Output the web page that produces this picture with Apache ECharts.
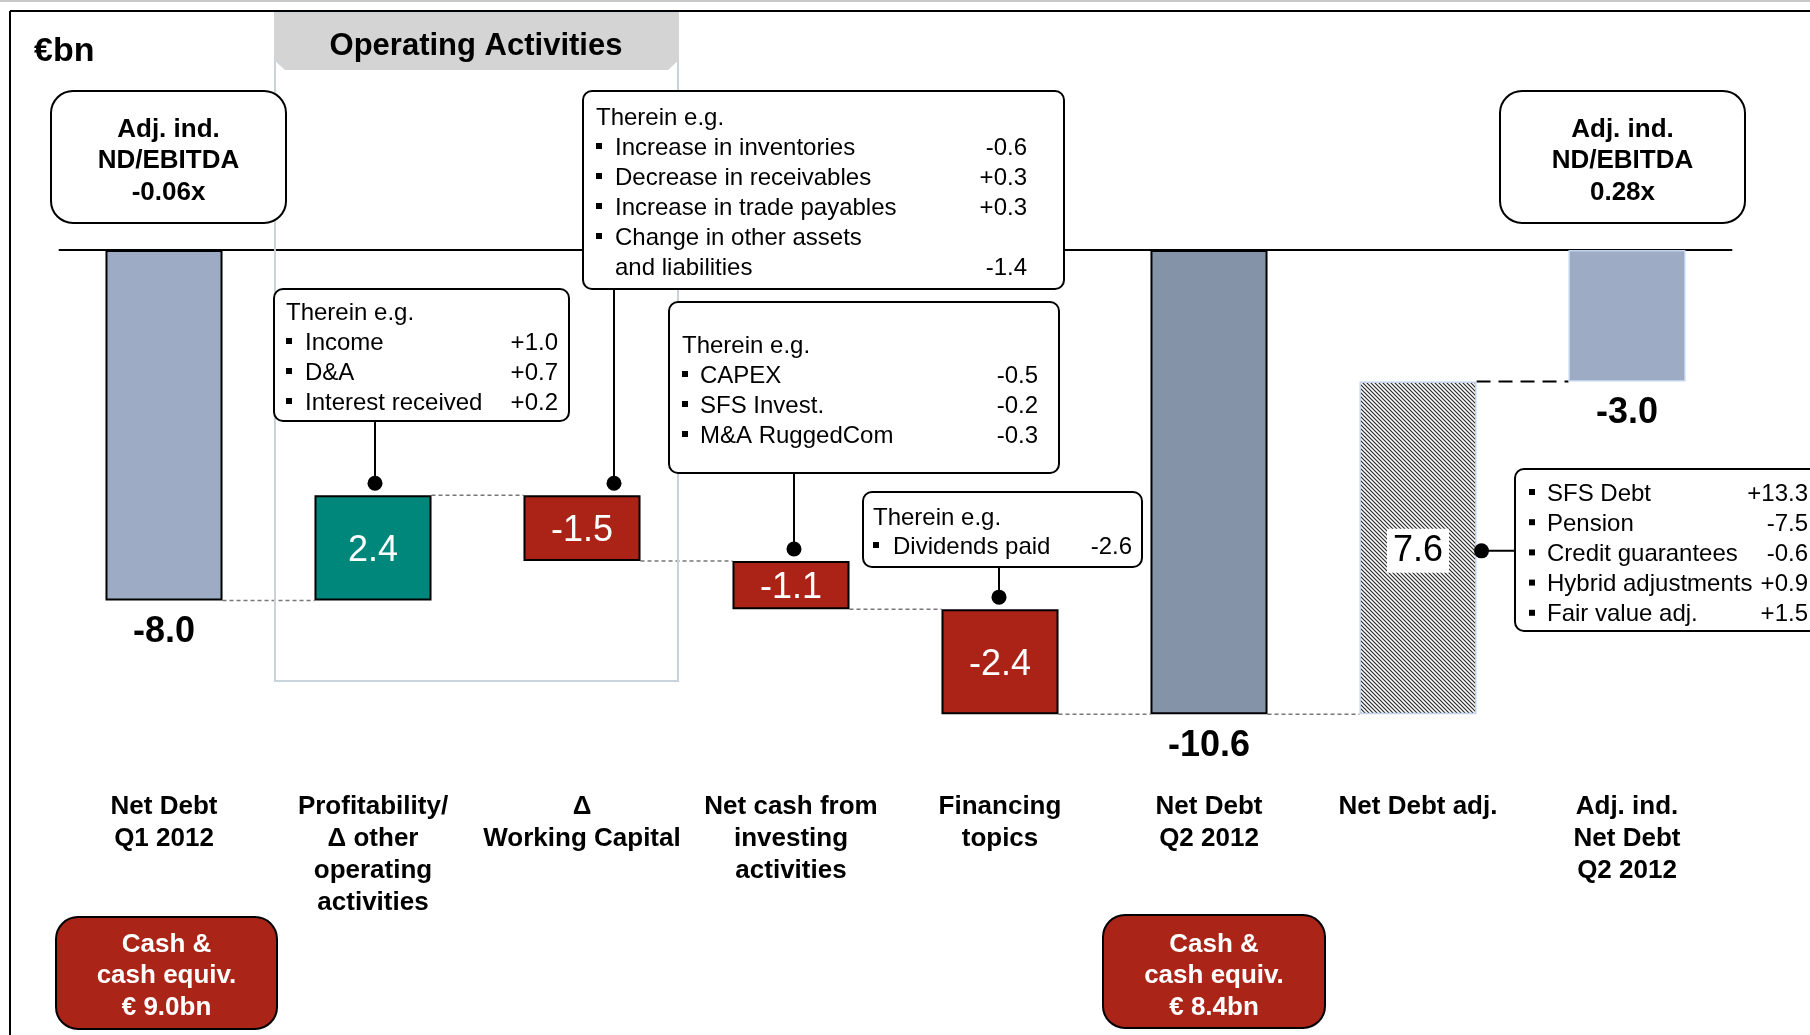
<!DOCTYPE html>
<html>
<head>
<meta charset="utf-8">
<title>Net Debt bridge</title>
<script src="https://cdn.jsdelivr.net/npm/echarts@6/dist/echarts.min.js"></script>
<style>
  html, body { margin: 0; padding: 0; background: #fff; }
  #chart { width: 1810px; height: 1035px; }
</style>
</head>
<body>
<div id="chart"></div>
<script>
// ---- data ----
const categories = [
  'Net Debt\nQ1 2012',
  'Profitability/\nΔ other\noperating\nactivities',
  'Δ\nWorking Capital',
  'Net cash from\ninvesting\nactivities',
  'Financing\ntopics',
  'Net Debt\nQ2 2012',
  'Net Debt adj.',
  'Adj. ind.\nNet Debt\nQ2 2012'
];
const changes = [-8.0, 2.4, -1.5, -1.1, -2.4, -10.6, 7.6, -3.0];
const isTotal = [true, false, false, false, false, true, false, true];

// callout texts
const noteProfit = [['Income', '+1.0'], ['D&A', '+0.7'], ['Interest received', '+0.2']];
const noteWorkingCapital = [
  ['Increase in inventories', '-0.6'],
  ['Decrease in receivables', '+0.3'],
  ['Increase in trade payables', '+0.3'],
  ['Change in other assets', ''],
  ['and liabilities', '-1.4', 'cont']
];
const noteInvesting = [['CAPEX', '-0.5'], ['SFS Invest.', '-0.2'], ['M&A RuggedCom', '-0.3']];
const noteFinancing = [['Dividends paid', '-2.6']];
const noteAdjustments = [
  ['SFS Debt', '+13.3'], ['Pension', '-7.5'], ['Credit guarantees', '-0.6'],
  ['Hybrid adjustments', '+0.9'], ['Fair value adj.', '+1.5']
];
const ratioLeft = ['Adj. ind.', 'ND/EBITDA', '-0.06x'];
const ratioRight = ['Adj. ind.', 'ND/EBITDA', '0.28x'];
const cashLeft = ['Cash &', 'cash equiv.', '€ 9.0bn'];
const cashRight = ['Cash &', 'cash equiv.', '€ 8.4bn'];

// ---- waterfall levels ----
const base = [], visible = [], level = [];
let run = 0;
changes.forEach((v, i) => {
  if (isTotal[i]) {
    base.push(0); visible.push(v); run = v;
  } else {
    const from = run;
    run = +(run + v).toFixed(1);
    base.push(Math.max(from, run));
    visible.push(-Math.abs(v));
  }
  level.push(run);
});

const FONT = "'Liberation Sans', Arial, Helvetica, sans-serif";
const BAR_RATIO = 0.56;
const TEXT_DY = 3; // nudge text down a bit, Liberation's middle sits high

// hatch pattern for the adjustment bar
const hatch = document.createElement('canvas');
hatch.width = 4; hatch.height = 4;
const hc = hatch.getContext('2d');
hc.fillStyle = '#fff'; hc.fillRect(0, 0, 4, 4);
hc.strokeStyle = '#2a2a2a'; hc.lineWidth = 1.2;
hc.beginPath();
hc.moveTo(0, 0); hc.lineTo(4, 4);
hc.moveTo(-1, 3); hc.lineTo(1, 5);
hc.moveTo(3, -1); hc.lineTo(5, 1);
hc.stroke();

const black = { borderColor: '#000', borderWidth: 2 };
const pale = { borderColor: '#c3d3ee', borderWidth: 1.5 };
const barStyles = [
  { color: '#9dabc5', ...black },
  { color: '#00877c', ...black },
  { color: '#ab2316', ...black },
  { color: '#ab2316', ...black },
  { color: '#ab2316', ...black },
  { color: '#8593a9', ...black },
  { color: { image: hatch, repeat: 'repeat' }, ...pale },
  { color: '#9dabc5', ...pale }
];

const chart = echarts.init(document.getElementById('chart'));

const option = {
  animation: false,
  backgroundColor: '#fff',
  grid: { left: 59.5, right: 78.5, top: 250, bottom: 259.4, containLabel: false, outerBoundsMode: 'none' },
  xAxis: [
    {
      type: 'category', data: categories, position: 'bottom',
      axisLine: { show: false, onZero: false }, axisTick: { show: false },
      axisLabel: {
        interval: 0, margin: 15, color: '#000', fontFamily: FONT,
        fontWeight: 'bold', fontSize: 26, lineHeight: 32
      }
    },
    {
      type: 'category', data: categories, position: 'top',
      axisLine: { show: true, onZero: false, lineStyle: { color: '#000', width: 2 } },
      axisTick: { show: false }, axisLabel: { show: false }
    }
  ],
  yAxis: { type: 'value', min: -12, max: 0, show: false },
  series: [
    {
      type: 'bar', stack: 'wf', barWidth: BAR_RATIO * 100 + '%', silent: true,
      itemStyle: { color: 'transparent' }, data: base
    },
    {
      type: 'bar', stack: 'wf', barWidth: BAR_RATIO * 100 + '%',
      data: visible.map((v, i) => ({
        value: v,
        itemStyle: barStyles[i],
        label: isTotal[i] ? { show: false } : {
          show: true, position: 'inside', offset: [0, 3],
          formatter: changes[i].toFixed(1),
          fontFamily: FONT, fontSize: 36,
          color: i === 6 ? '#000' : '#fff',
          backgroundColor: i === 6 ? '#fff' : 'transparent',
          padding: i === 6 ? [4, 6] : 0
        }
      }))
    },
    {
      // dashed connectors between bars
      type: 'custom', silent: true, z: 1,
      data: level.slice(0, -1).map((v, i) => [i, v]),
      renderItem: (params, api) => {
        const i = api.value(0), v = api.value(1);
        const half = api.size([1, 0])[0] * BAR_RATIO / 2;
        const a = api.coord([i, v]), b = api.coord([i + 1, v]);
        const last = i === changes.length - 2;
        return {
          type: 'line',
          shape: { x1: a[0] + half, y1: a[1], x2: b[0] - half, y2: b[1] },
          style: {
            stroke: last ? '#000' : '#777', lineWidth: last ? 2 : 1.5,
            lineDash: last ? [14, 8] : [4, 3]
          }
        };
      }
    },
    {
      // total values under the total bars
      type: 'custom', silent: true, z: 5,
      data: changes.map((v, i) => [i, level[i], v]).filter((d, i) => isTotal[i]),
      renderItem: (params, api) => {
        const p = api.coord([api.value(0), api.value(1)]);
        return {
          type: 'text', x: p[0], y: p[1] + 29 + TEXT_DY,
          style: {
            text: api.value(2).toFixed(1), fill: '#000',
            font: 'bold 36px ' + FONT,
            align: 'center', verticalAlign: 'middle',
            textAlign: 'center', textVerticalAlign: 'middle'
          }
        };
      }
    }
  ]
};

chart.setOption(option);

// ---- annotations ----
function txt(x, y, s, align, font, fill, z) {
  return {
    type: 'text', x, y: y + TEXT_DY, z: z || 22,
    style: {
      text: s, font, fill: fill || '#000',
      align, verticalAlign: 'middle', textAlign: align, textVerticalAlign: 'middle'
    }
  };
}

function note(n) {
  const [x, y, w, h] = n.box;
  const els = [{
    type: 'rect', z: 20,
    shape: { x, y, width: w, height: h, r: 9 },
    style: { fill: '#fff', stroke: '#000', lineWidth: 2 }
  }];
  const f = '24px ' + FONT;
  let ly = y + n.first;
  if (n.header) { els.push(txt(x + n.bulletX, ly, n.header, 'left', f)); ly += n.step; }
  n.rows.forEach(r => {
    if (r[2] !== 'cont') {
      els.push({ type: 'rect', z: 21, shape: { x: x + n.bulletX, y: ly - 2, width: 6, height: 6 }, style: { fill: '#000' } });
    }
    els.push(txt(x + n.textX, ly, r[0], 'left', f));
    if (r[1]) els.push(txt(n.valueRight, ly, r[1], 'right', f));
    ly += n.step;
  });
  return els;
}

function roundBox(x, y, w, h, lines, fill, color, lineYs) {
  const els = [{
    type: 'rect', z: 20,
    shape: { x, y, width: w, height: h, r: 22 },
    style: { fill, stroke: '#000', lineWidth: 2 }
  }];
  lines.forEach((s, k) => els.push(txt(x + w / 2, lineYs[k], s, 'center', 'bold 26px ' + FONT, color)));
  return els;
}

const notes = [
  { cat: 1, dx: 2, box: [274, 289, 295, 132], header: 'Therein e.g.', rows: noteProfit, first: 21, step: 30, bulletX: 12, textX: 31, valueRight: 558 },
  { cat: 2, dx: 32, box: [583, 91, 481, 198], header: 'Therein e.g.', rows: noteWorkingCapital, first: 24, step: 30, bulletX: 13, textX: 32, valueRight: 1027 },
  { cat: 3, dx: 3, box: [669, 302, 390, 171], header: 'Therein e.g.', rows: noteInvesting, first: 41, step: 30, bulletX: 13, textX: 31, valueRight: 1038 },
  { cat: 4, dx: -1, box: [863, 492, 279, 75], header: 'Therein e.g.', rows: noteFinancing, first: 23, step: 29, bulletX: 10, textX: 30, valueRight: 1132 }
];
const adjNote = { cat: 6, box: [1515, 469, 330, 162], rows: noteAdjustments, first: 22, step: 30.2, bulletX: 14, textX: 32, valueRight: 1808 };

const g = [];
// page frame
g.push({ type: 'line', z: 1, shape: { x1: 0, y1: 1, x2: 1810, y2: 1 }, style: { stroke: '#c8c8c8', lineWidth: 2 } });
g.push({ type: 'line', z: 1, shape: { x1: 10, y1: 11, x2: 1810, y2: 11 }, style: { stroke: '#000', lineWidth: 2 } });
g.push({ type: 'line', z: 1, shape: { x1: 10, y1: 11, x2: 10, y2: 1035 }, style: { stroke: '#000', lineWidth: 2 } });
g.push(txt(34, 49, '€bn', 'left', 'bold 34px ' + FONT));

// operating activities frame and banner
g.push({ type: 'rect', z: 1, shape: { x: 275, y: 13, width: 403, height: 668 }, style: { fill: 'none', stroke: '#c8d3de', lineWidth: 2 } });
g.push({
  type: 'polygon', z: 2,
  shape: { points: [[274, 13], [679, 13], [679, 60], [668, 70], [285, 70], [274, 60]] },
  style: { fill: '#d4d4d4' }
});
g.push(txt(476, 43, 'Operating Activities', 'center', 'bold 31px ' + FONT, '#000', 3));

// ratio and cash boxes
g.push(...roundBox(51, 91, 235, 132, ratioLeft, '#fff', '#000', [127, 158, 190]));
g.push(...roundBox(1500, 91, 245, 132, ratioRight, '#fff', '#000', [127, 158, 190]));
g.push(...roundBox(56, 917, 221, 112, cashLeft, '#aa2417', '#fff', [942, 973, 1005]));
g.push(...roundBox(1103, 915, 222, 113, cashRight, '#aa2417', '#fff', [942, 973, 1005]));

// callouts with pins onto the bars
const halfBar = chart.getModel().getComponent('xAxis', 0).axis.getBandWidth() * BAR_RATIO / 2;
notes.forEach(n => {
  g.push(...note(n));
  const p = chart.convertToPixel({ xAxisIndex: 0, yAxisIndex: 0 }, [n.cat, base[n.cat]]);
  const px = p[0] + n.dx, py = p[1] - 12;
  g.push({ type: 'line', z: 19, shape: { x1: px, y1: n.box[1] + n.box[3], x2: px, y2: py }, style: { stroke: '#000', lineWidth: 2 } });
  g.push({ type: 'circle', z: 19, shape: { cx: px, cy: py, r: 7.5 }, style: { fill: '#000' } });
});
g.push(...note(adjNote));
{
  const c = adjNote.cat;
  const top = chart.convertToPixel({ xAxisIndex: 0, yAxisIndex: 0 }, [c, base[c]]);
  const bot = chart.convertToPixel({ xAxisIndex: 0, yAxisIndex: 0 }, [c, base[c] + visible[c]]);
  const px = top[0] + halfBar + 5, py = (top[1] + bot[1]) / 2 + 3;
  g.push({ type: 'line', z: 19, shape: { x1: px, y1: py, x2: adjNote.box[0], y2: py }, style: { stroke: '#000', lineWidth: 2 } });
  g.push({ type: 'circle', z: 19, shape: { cx: px, cy: py, r: 7.5 }, style: { fill: '#000' } });
}

chart.setOption({ graphic: { elements: g } });
window.addEventListener('resize', chart.resize);
</script>
</body>
</html>
